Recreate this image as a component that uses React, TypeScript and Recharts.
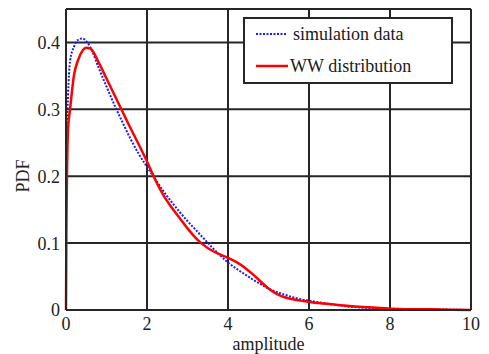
import { LineChart, Line, XAxis, YAxis, CartesianGrid, Legend, ReferenceLine } from 'recharts';

const amplitude = [0, 0.01, 0.02, 0.05, 0.1, 0.2, 0.3, 0.4, 0.5, 0.6, 0.8, 1.0, 1.2, 1.4, 1.6, 1.8, 2.0, 2.2, 2.4, 2.6, 2.8, 3.0, 3.2, 3.4, 3.6, 3.8, 4.0, 4.2, 4.4, 4.6, 4.8, 5.0, 5.2, 5.4, 5.6, 5.8, 6.0, 6.5, 7.0, 7.5, 8.0, 9.0, 10.0];
const simulation = [0.19, 0.22, 0.26, 0.32, 0.372, 0.394, 0.404, 0.406, 0.402, 0.393, 0.363, 0.334, 0.306, 0.28, 0.255, 0.233, 0.214, 0.196, 0.178, 0.162, 0.147, 0.133, 0.12, 0.107, 0.094, 0.082, 0.071, 0.062, 0.054, 0.046, 0.039, 0.032, 0.027, 0.023, 0.019, 0.016, 0.014, 0.009, 0.005, 0.003, 0.002, 0.001, 0.0];
const wwDist = [0, 0.12, 0.18, 0.27, 0.3, 0.352, 0.374, 0.387, 0.392, 0.391, 0.371, 0.346, 0.321, 0.296, 0.271, 0.247, 0.222, 0.195, 0.172, 0.154, 0.138, 0.122, 0.108, 0.097, 0.089, 0.083, 0.078, 0.072, 0.064, 0.054, 0.043, 0.032, 0.024, 0.019, 0.016, 0.014, 0.012, 0.009, 0.006, 0.004, 0.002, 0.001, 0.0];
const xTicks = [0, 2, 4, 6, 8, 10];
const yTicks = [0, 0.1, 0.2, 0.3, 0.4];

const data = amplitude.map((x, i) => ({ x, sim: simulation[i], ww: wwDist[i] }));

const FONT = '"Liberation Serif", "Times New Roman", serif';
const INK = '#262626';

function LegendBox() {
  return (
    <div style={{
      width: 206, height: 63, background: '#fff', border: `2px solid ${INK}`,
      fontFamily: FONT, fontSize: 18, color: '#1a1a1a', position: 'relative',
    }}>
      <svg width={34} height={60} style={{ position: 'absolute', left: 11, top: 0 }}>
        <line x1={0} y1={15} x2={30} y2={15} stroke="#1a1aff" strokeWidth={2} strokeDasharray="2 1.5" />
        <line x1={0} y1={47} x2={32} y2={47} stroke="#ff0000" strokeWidth={2.5} />
      </svg>
      <div style={{ position: 'absolute', left: 48, top: 4, lineHeight: '22px' }}>simulation data</div>
      <div style={{ position: 'absolute', left: 45, top: 36, lineHeight: '22px' }}>WW distribution</div>
    </div>
  );
}

export default function App() {
  const tick = { fill: '#222', fontSize: 18, fontFamily: FONT };
  return (
    <div style={{ position: 'absolute', left: 0, top: 0, background: '#fff' }}>
      <LineChart width={489} height={354} data={data} margin={{ top: 9, right: 18, left: 0, bottom: 0 }}>
        <CartesianGrid stroke={INK} strokeWidth={2} />
        <ReferenceLine y={0.45} stroke={INK} strokeWidth={2} />
        <ReferenceLine x={10} stroke={INK} strokeWidth={2} />
        <XAxis
          dataKey="x" type="number" domain={[0, 10]} ticks={xTicks}
          height={44} tick={tick} tickLine={false} tickSize={5} tickMargin={2}
          axisLine={{ stroke: INK, strokeWidth: 2 }}
          label={{ value: 'amplitude', position: 'insideBottom', offset: 4, fill: '#222', fontSize: 18, fontFamily: FONT }}
        />
        <YAxis
          type="number" domain={[0, 0.45]} ticks={yTicks} width={66}
          tick={tick} tickLine={false} tickSize={4} tickMargin={2}
          tickFormatter={(v: number) => (v === 0 ? '0' : v.toFixed(1))}
          axisLine={{ stroke: INK, strokeWidth: 2 }}
          label={{
            content: () => (
              <text x={23} y={176} transform="rotate(-90, 23, 176)" textAnchor="middle" dominantBaseline="central"
                fill="#222" fontSize={18} fontFamily={FONT}>PDF</text>
            ),
          }}
        />
        <Legend
          layout="vertical" align="center" verticalAlign="middle"
          wrapperStyle={{ left: 243, top: 17, width: 210, height: 67 }}
          content={() => <LegendBox />}
        />
        <Line dataKey="sim" type="monotone" stroke="#1a1aff" strokeWidth={2} strokeDasharray="2 1.5" dot={false} isAnimationActive={false} />
        <Line dataKey="ww" type="monotone" stroke="#ff0000" strokeWidth={2.5} dot={false} isAnimationActive={false} />
      </LineChart>
    </div>
  );
}
